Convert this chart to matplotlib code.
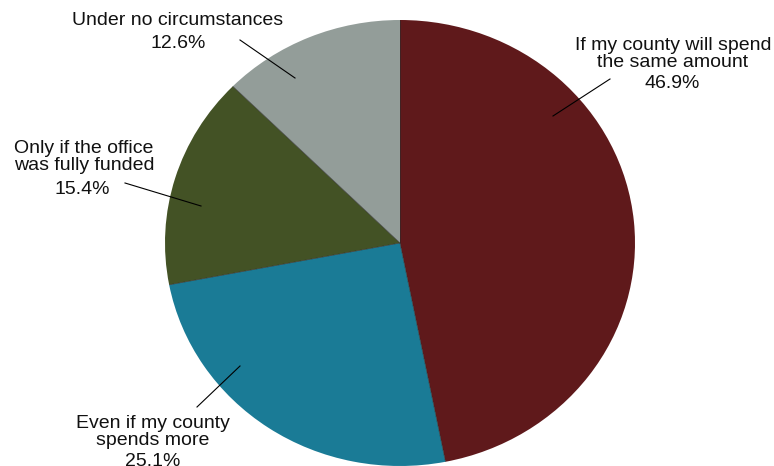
import matplotlib
matplotlib.use("Agg")
import matplotlib.pyplot as plt
import numpy as np

labels = ["If my county will spend\nthe same amount",
          "Even if my county\nspends more",
          "Only if the office\nwas fully funded",
          "Under no circumstances"]
shares = [46.9, 25.1, 15.4, 12.6]
colors = ["#5f191b", "#1a7b96", "#435225", "#939d99"]

W, H = 774, 466
CX, CY, RX, RY = 400, 243, 235, 223

plt.rcParams["font.family"] = ["Liberation Sans", "DejaVu Sans"]
fig = plt.figure(figsize=(W / 100, H / 100), dpi=100)
ax = fig.add_axes([0, 0, 1, 1])
ax.axis("off")

ax.pie(shares, colors=colors, startangle=90, counterclock=False,
       radius=1.0, wedgeprops=dict(linewidth=0, antialiased=True))
ax.set_xlim(-CX / RX, (W - CX) / RX)
ax.set_ylim(-(H - CY) / RY, CY / RY)
ax.set_aspect("auto")

# thin dark seams between slices
bounds = 90 - 360 * np.cumsum([0] + shares[:-1]) / sum(shares)
for ang in bounds:
    t = np.deg2rad(ang)
    ax.plot([0, np.cos(t)], [0, np.sin(t)], color="#2a2a2a", lw=0.5,
            alpha=0.8, solid_capstyle="butt")


def px(x, y):
    return ((x - CX) / RX, (CY - y) / RY)


# label centre, percent centre, leader start, leader end (pixel space)
placements = [
    ((673, 54), (672, 83), (610, 79), (553, 116)),
    ((153, 432), (153, 461), (197, 407), (240, 366)),
    ((84, 157), (82, 189), (125, 183), (201, 206)),
    ((178, 20), (178, 43), (240, 40), (295, 78)),
]

for lab, val, (lpos, vpos, p0, p1) in zip(labels, shares, placements):
    ax.text(*px(*lpos), lab, ha="center", va="center", fontsize=14,
            color="#111111", linespacing=1.0)
    ax.text(*px(*vpos), f"{val:.1f}%", ha="center", va="center",
            fontsize=14, color="#111111")
    a, b = px(*p0), px(*p1)
    ax.plot([a[0], b[0]], [a[1], b[1]], color="black", lw=0.8)

fig.savefig("out.png", dpi=100, facecolor="white")
